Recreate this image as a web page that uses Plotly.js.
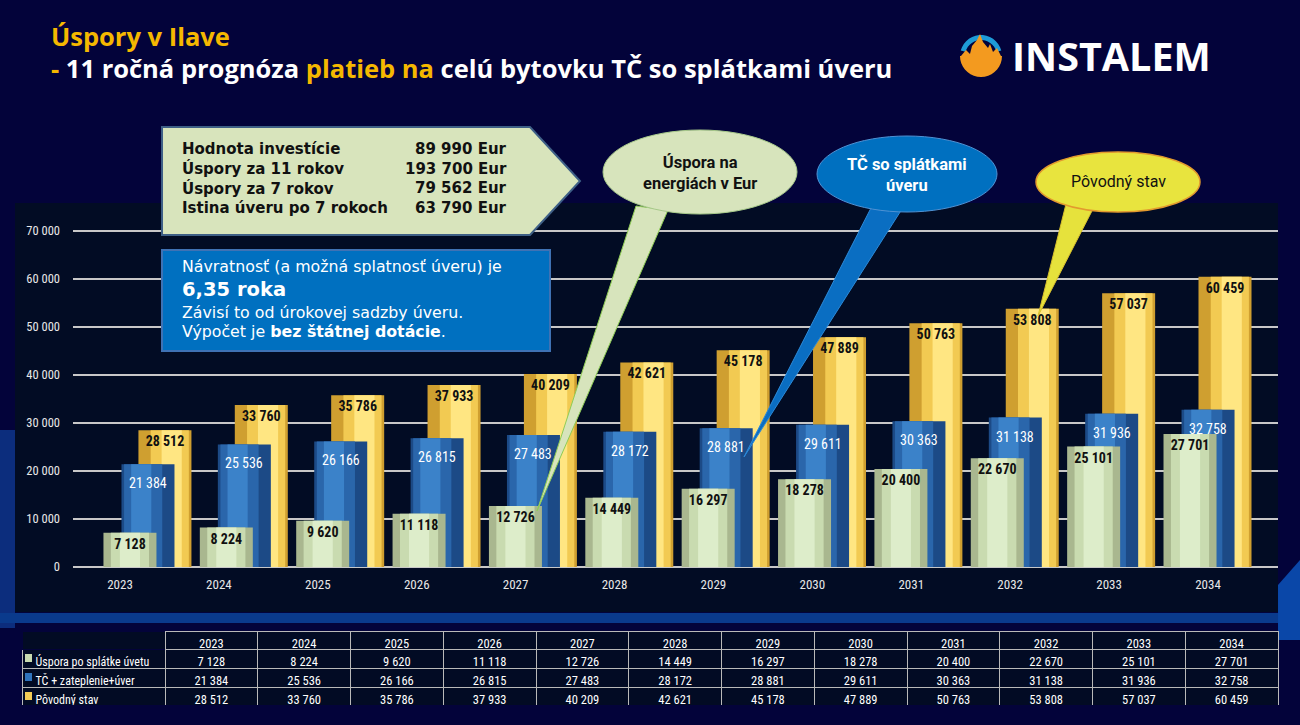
<!DOCTYPE html>
<html><head><meta charset="utf-8">
<script src="https://cdn.plot.ly/plotly-3.0.1.min.js"></script>
<style>html,body{margin:0;padding:0;background:#03033a;}#chart{width:1300px;height:725px;}</style>
</head><body><div id="chart"></div>
<script>
// ---- DATA ----
const years = [2023, 2024, 2025, 2026, 2027, 2028, 2029, 2030, 2031, 2032, 2033, 2034];
const usporaValues = [7128, 8224, 9620, 11118, 12726, 14449, 16297, 18278, 20400, 22670, 25101, 27701];
const tcUverValues = [21384, 25536, 26166, 26815, 27483, 28172, 28881, 29611, 30363, 31138, 31936, 32758];
const povodnyValues = [28512, 33760, 35786, 37933, 40209, 42621, 45178, 47889, 50763, 53808, 57037, 60459];
const seriesNames = ['Úspora po splátke úvetu', 'TČ + zateplenie+úver', 'Pôvodný stav'];
const yTicks = [0, 10000, 20000, 30000, 40000, 50000, 60000, 70000];
const infoLabels = ['Hodnota investície', 'Úspory za 11 rokov', 'Úspory za 7 rokov', 'Istina úveru po 7 rokoch'];
const infoValues = ['89 990 Eur', '193 700 Eur', '79 562 Eur', '63 790 Eur'];

// ---- helpers ----
const W = 1300, H = 725;
const px = x => x / W;
const py = y => 1 - y / H;
const NARROW = '"Liberation Sans Narrow", "Arial Narrow", "Roboto Condensed", sans-serif';
const fmt = v => String(v).replace(/\B(?=(\d{3})+(?!\d))/g, ' ');
function poly(points) {
  return 'M' + points.map(p => px(p[0]).toFixed(5) + ',' + py(p[1]).toFixed(5)).join('L') + 'Z';
}
function ell(cx, cy, rx, ry, fill, line, lw) {
  return {type: 'circle', xref: 'paper', yref: 'paper', layer: 'above',
    x0: px(cx - rx), x1: px(cx + rx), y0: py(cy + ry), y1: py(cy - ry),
    fillcolor: fill, line: {color: line, width: lw}};
}
function pshape(points, fill, line, lw, layer) {
  return {type: 'path', xref: 'paper', yref: 'paper', layer: layer || 'above',
    path: poly(points), fillcolor: fill, line: {color: line, width: lw}};
}
function rect(x0, y0, x1, y1, fill, line, lw, layer) {
  return {type: 'rect', xref: 'paper', yref: 'paper', layer: layer || 'above',
    x0: px(x0), x1: px(x1), y0: py(y1), y1: py(y0), fillcolor: fill, line: {color: line || fill, width: lw || 0}};
}

// ---- bars (cylinder look from layered bars) ----
const BW = 0.55;
function layers(values, name, shift, cols, hlShift, textColor, withText) {
  const base = {type: 'bar', x: years, y: values, name: name, hoverinfo: 'skip', showlegend: false};
  const out = [];
  out.push(Object.assign({}, base, {width: BW, offset: shift - BW / 2, marker: {color: cols[0], line: {width: 0}}}));
  const w1 = BW * 0.72;
  out.push(Object.assign({}, base, {width: w1, offset: shift + hlShift - w1 / 2, marker: {color: cols[1], line: {width: 0}}}));
  const w2 = BW * 0.38;
  out.push(Object.assign({}, base, {width: w2, offset: shift + hlShift * 1.4 - w2 / 2, marker: {color: cols[2], line: {width: 0}}}));
  if (withText) {
    out.push(Object.assign({}, base, {width: BW, offset: shift - BW / 2,
      marker: {color: 'rgba(0,0,0,0)', line: {width: 0}},
      texttemplate: '<b>%{y:,}</b>', textposition: 'inside', insidetextanchor: 'end',
      constraintext: 'none', textangle: 0,
      textfont: {family: NARROW, size: 14, color: textColor}}));
  }
  return out;
}
const traces = [];
traces.push(...layers(povodnyValues, seriesNames[2], 0.176, ['#cf9f30', '#f2ca52', '#ffe682'], 0.05, '#111111', true));
traces.push(...layers(tcUverValues, seriesNames[1], 0.0, ['#1c4a86', '#2a66ab', '#3b82c9'], -0.05, '#ffffff', false));
traces.push(...layers(usporaValues, seriesNames[0], -0.187, ['#a9b78f', '#c9dbb0', '#ddedca'], 0.0, '#111111', true));
// carrier for the label axis
traces.push({type: 'scatter', x: years, y: usporaValues.map(() => 0), xaxis: 'x2', yaxis: 'y', mode: 'markers',
  marker: {opacity: 0, size: 1}, hoverinfo: 'skip', showlegend: false});

// ---- table ----
const NB = '\u00a0\u00a0';
const tableCols = [seriesNames.map(n => NB + n)];
years.forEach((y, i) => tableCols.push([fmt(usporaValues[i]), fmt(tcUverValues[i]), fmt(povodnyValues[i])]));
traces.push({
  type: 'table',
  domain: {x: [px(22), px(1278)], y: [py(706), py(631)]},
  columnwidth: [143].concat(years.map(() => 92.75)),
  header: {values: [''].concat(years.map(String)), align: 'center', height: 18,
    fill: {color: '#020b24'}, line: {color: ['#03033a'].concat(years.map(() => '#b9b9b9')), width: 1},
    font: {family: NARROW, size: 12.5, color: '#ffffff'}},
  cells: {values: tableCols, align: ['left'].concat(years.map(() => 'center')), height: 19,
    fill: {color: '#020b24'}, line: {color: '#b9b9b9', width: 1},
    font: {family: NARROW, size: [12].concat(years.map(() => 12.5)), color: '#ffffff'}}
});

// ---- shapes ----
const shapes = [
  rect(15, 203, 1278, 612, '#020c24', null, 0, 'below'),
  rect(0, 430, 15, 628, 'rgba(20,80,180,0.55)', null, 0, 'below'),
  rect(0, 613, 1278, 623, '#0a3a8c', null, 0, 'below'),
  pshape([[1278, 585], [1300, 560], [1300, 640], [1278, 640]], '#0a47a8', '#0a47a8', 0, 'below'),
  // info arrow
  pshape([[162, 127], [530, 127], [580, 181], [530, 235], [162, 235]], '#d8e4bc', '#3e5f86', 2),
  // blue box
  rect(162, 250, 550, 351, '#0070c0', '#3f72b4', 2),
  // bubbles
  pshape([[636, 206], [668, 210], [537, 511]], '#d7e4bc', '#8fcc55', 1),
  ell(700, 172, 97, 42, '#d7e4bc', '#a7c98a', 1),
  pshape([[872, 206], [902, 209], [744, 457]], '#0a6ec2', '#2d8ad8', 1),
  ell(907, 174, 90, 38, '#0070c0', '#4f92d4', 1),
  pshape([[1066, 204], [1094, 207], [1038, 316]], '#e6e23c', '#d8c02c', 1),
  ell(1118, 182, 82, 30, '#e8e43e', '#e39a2e', 1.5),
  // legend squares in the table
  rect(25, 654, 32, 662, '#c9dbb0'),
  rect(25, 673, 32, 681, '#2f73bd'),
  rect(25, 692, 32, 700, '#f3cb55')
];
// logo icon
const ring = [];
for (let a = 195; a <= 345; a += 10) { const r = a * Math.PI / 180; ring.push([981 + 21 * Math.cos(r), 56 + 21 * Math.sin(r)]); }
const ringIn = [];
for (let a = 345; a >= 195; a -= 10) { const r = a * Math.PI / 180; ringIn.push([981 + 16 * Math.cos(r), 56 + 16 * Math.sin(r)]); }
shapes.push(pshape(ring.concat(ringIn), '#1e9bd7', '#1e9bd7', 0));
const flame = [];
for (let a = 0; a <= 180; a += 10) { const r = a * Math.PI / 180; flame.push([981 + 21 * Math.cos(r), 56 + 21 * Math.sin(r)]); }
flame.push([961, 56], [966, 50], [970, 54], [972, 46], [977, 40], [980, 34], [983, 42], [988, 48], [990, 44], [993, 52], [997, 48], [1001, 56]);
shapes.push(pshape(flame, '#f39a1f', '#f39a1f', 0));

// ---- annotations ----
const ann = [];
function A(x, y, text, font, opts) {
  ann.push(Object.assign({xref: 'paper', yref: 'paper', x: px(x), y: py(y), text: text, showarrow: false,
    xanchor: 'left', yanchor: 'middle', font: font}, opts || {}));
}
const F = (fam, size, color) => ({family: fam, size: size, color: color});
const OPEN = '"Open Sans", sans-serif', DEJA = '"DejaVu Sans", sans-serif', ROBO = 'Roboto, sans-serif';
A(49, 36, '<b>Úspory v Ilave</b>', F(OPEN, 25.5, '#f5b800'));
A(49, 68, '<b><span style="color:#f5b800">-</span> 11 ročná prognóza <span style="color:#f5b800">platieb na</span> celú bytovku TČ so splátkami úveru</b>', F(OPEN, 25.5, '#ffffff'));
A(1010, 56, '<b>INSTALEM</b>', F(OPEN, 39.5, '#ffffff'));
const infoY = [149, 169, 188, 208];
infoLabels.forEach((t, i) => {
  A(180, infoY[i], '<b>' + t + '</b>', F(DEJA, 15, '#111111'));
  A(509, infoY[i], '<b>' + infoValues[i] + '</b>', F(DEJA, 15, '#111111'), {xanchor: 'right'});
});
A(180, 267, 'Návratnosť (a možná splatnosť úveru) je', F(DEJA, 15.8, '#ffffff'));
A(180, 289, '<b>6,35 roka</b>', F(DEJA, 19.5, '#ffffff'));
A(180, 312, 'Závisí to od úrokovej sadzby úveru.', F(DEJA, 15.8, '#ffffff'));
A(180, 331, 'Výpočet je <b>bez štátnej dotácie</b>.', F(DEJA, 15.8, '#ffffff'));
A(700, 173, '<b>Úspora na<br>energiách v Eur</b>', F(ROBO, 16.5, '#111111'), {xanchor: 'center'});
A(907, 174, '<b>TČ so splátkami<br>úveru</b>', F(ROBO, 16.5, '#ffffff'), {xanchor: 'center'});
A(1118, 181, 'Pôvodný stav', F(ROBO, 16, '#111111'), {xanchor: 'center'});
// blue bar value labels, placed on the data scale of the bars
years.forEach((yr, i) => {
  ann.push({xref: 'x', yref: 'y', x: yr, y: tcUverValues[i], yshift: -19, text: fmt(tcUverValues[i]),
    showarrow: false, xanchor: 'center', yanchor: 'middle', font: F(NARROW, 14, '#ffffff')});
});

// ---- layout ----
const layout = {
  width: W, height: H, margin: {l: 0, r: 0, t: 0, b: 0},
  paper_bgcolor: '#03033a', plot_bgcolor: 'rgba(0,0,0,0)',
  separators: ', ', barmode: 'overlay', hovermode: false, showlegend: false,
  xaxis: {domain: [px(73), px(1278)], range: [2022.222, 2034.726], showticklabels: false, showgrid: false,
    zeroline: false, showline: false, ticks: '', fixedrange: true},
  xaxis2: {domain: [px(73), px(1278)], overlaying: 'x', anchor: 'y', side: 'bottom', range: [2022.525, 2034.708],
    tickvals: years, ticktext: years.map(String), showgrid: false, zeroline: false, showline: false, ticks: '',
    tickfont: {family: NARROW, size: 13, color: '#e8e8e8'}, fixedrange: true},
  yaxis: {domain: [py(575), py(203)], range: [-1667, 75833], tickvals: yTicks, tickformat: ',',
    showgrid: true, gridcolor: '#c8c8c8', gridwidth: 2, zeroline: true, zerolinecolor: '#c8c8c8', zerolinewidth: 2,
    showline: false, ticks: '', ticklabelstandoff: 12,
    tickfont: {family: NARROW, size: 12.5, color: '#e8e8e8'}, fixedrange: true},
  shapes: shapes, annotations: ann
};
Plotly.newPlot('chart', traces, layout, {staticPlot: true, displayModeBar: false});
</script></body></html>
